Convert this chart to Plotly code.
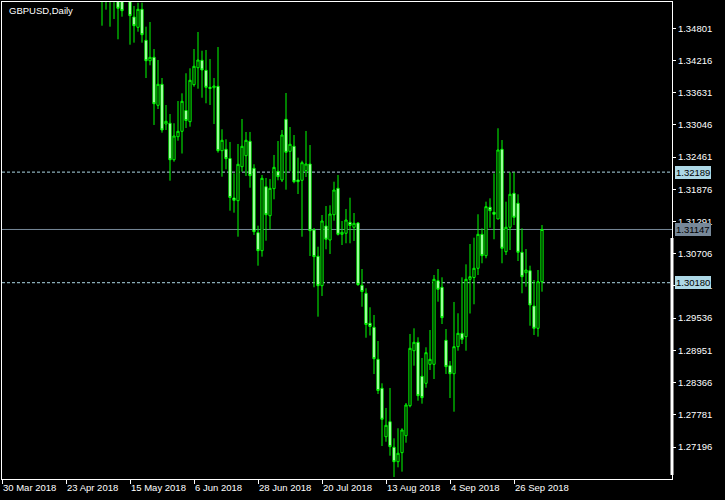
import pandas as pd
import plotly.graph_objects as go

# ---------------- data ----------------
trading_days = pd.bdate_range("2018-03-30", "2018-10-05")
first_bar = "2018-05-04"

opens = [1.35480, 1.35360, 1.35520, 1.35400, 1.35610, 1.35300, 1.35400, 1.35450, 1.35006, 1.34819,
         1.35146, 1.34583, 1.34212, 1.34274, 1.33402, 1.33784, 1.33063, 1.33076, 1.32414, 1.32832,
         1.32930, 1.33308, 1.33105, 1.33777, 1.34085, 1.34220, 1.34038, 1.33729, 1.33722, 1.33748,
         1.32578, 1.32603, 1.32436, 1.31719, 1.31670, 1.32287, 1.32487, 1.32749, 1.32258, 1.31089,
         1.30762, 1.31924, 1.31397, 1.31888, 1.32204, 1.32046, 1.33148, 1.32567, 1.32658, 1.32046,
         1.32040, 1.32215, 1.32336, 1.31138, 1.30660, 1.30126, 1.31210, 1.30956, 1.31415, 1.31895,
         1.31059, 1.31078, 1.31277, 1.31187, 1.31265, 1.30133, 1.29988, 1.29443, 1.29370, 1.28789,
         1.28262, 1.27383, 1.27656, 1.27191, 1.26929, 1.27093, 1.27401, 1.27946, 1.28945, 1.29098,
         1.28480, 1.28353, 1.28698, 1.28698, 1.30217, 1.30097, 1.29134, 1.28673, 1.28527, 1.29018,
         1.29261, 1.29200, 1.30242, 1.30275, 1.30442, 1.31059, 1.30671, 1.31550, 1.31459, 1.31337,
         1.32603, 1.30743, 1.31187, 1.31804, 1.31623, 1.30732, 1.30362, 1.30398, 1.29757, 1.29352,
         1.30198]
highs = [1.35620, 1.35660, 1.35750, 1.35730, 1.35770, 1.35450, 1.35720, 1.35600, 1.35206, 1.35266,
         1.35266, 1.34830, 1.34915, 1.34425, 1.34225, 1.33898, 1.33408, 1.33244, 1.33076, 1.33480,
         1.33620, 1.33984, 1.34075, 1.34425, 1.34734, 1.34394, 1.34407, 1.34243, 1.33898, 1.34461,
         1.32967, 1.32785, 1.32736, 1.32167, 1.32700, 1.33154, 1.32918, 1.32918, 1.32331, 1.31216,
         1.32137, 1.32082, 1.32064, 1.32500, 1.32754, 1.32954, 1.33626, 1.33008, 1.32863, 1.32451,
         1.32396, 1.32936, 1.32681, 1.31174, 1.30834, 1.31410, 1.31573, 1.31586, 1.32015, 1.32137,
         1.31301, 1.31519, 1.31724, 1.31446, 1.31283, 1.30429, 1.30079, 1.29734, 1.29594, 1.29121,
         1.28353, 1.27905, 1.28268, 1.27354, 1.27536, 1.27536, 1.27995, 1.29249, 1.29352, 1.29189,
         1.28813, 1.29007, 1.29321, 1.30320, 1.30429, 1.30278, 1.29339, 1.28758, 1.29830, 1.29625,
         1.30278, 1.30514, 1.30883, 1.30998, 1.31423, 1.31168, 1.31652, 1.31713, 1.32167, 1.32985,
         1.32772, 1.31652, 1.32186, 1.32186, 1.31786, 1.31168, 1.30792, 1.30489, 1.30229, 1.30411,
         1.31228]
lows = [1.34848, 1.35139, 1.34830, 1.34970, 1.34601, 1.35012, 1.35300, 1.34503, 1.34540, 1.34739,
        1.34540, 1.33898, 1.34129, 1.33045, 1.33335, 1.32905, 1.32954, 1.32033, 1.32378, 1.32759,
        1.32527, 1.32990, 1.33014, 1.33740, 1.33704, 1.33540, 1.33439, 1.33408, 1.33063, 1.32542,
        1.32106, 1.32240, 1.31488, 1.31452, 1.31016, 1.32196, 1.32118, 1.31906, 1.31047, 1.30489,
        1.30653, 1.30943, 1.31150, 1.31695, 1.32040, 1.32009, 1.31870, 1.32204, 1.31986, 1.31791,
        1.31016, 1.32100, 1.30665, 1.30097, 1.29563, 1.29939, 1.30787, 1.30702, 1.31306, 1.31038,
        1.30865, 1.30896, 1.30896, 1.30938, 1.30126, 1.29744, 1.29181, 1.29221, 1.28522, 1.28159,
        1.27214, 1.27292, 1.27038, 1.26651, 1.26827, 1.26748, 1.27274, 1.27917, 1.28673, 1.28037,
        1.27983, 1.28273, 1.28595, 1.28431, 1.29835, 1.29430, 1.28522, 1.28086, 1.27837, 1.28945,
        1.29067, 1.28945, 1.29621, 1.29788, 1.30320, 1.30533, 1.30624, 1.31179, 1.30969, 1.31337,
        1.30533, 1.30683, 1.30774, 1.31228, 1.30574, 1.29988, 1.30108, 1.29399, 1.29230, 1.29200,
        1.30017]
closes = [1.35360, 1.35520, 1.35400, 1.35610, 1.35164, 1.35121, 1.35600, 1.35030, 1.34848, 1.35146,
          1.34685, 1.34212, 1.34274, 1.33431, 1.33784, 1.32954, 1.33112, 1.32414, 1.32845, 1.32930,
          1.33475, 1.33126, 1.33857, 1.34111, 1.34225, 1.34044, 1.33729, 1.33708, 1.33753, 1.32578,
          1.32767, 1.32433, 1.31728, 1.31677, 1.32331, 1.32658, 1.32767, 1.32124, 1.31107, 1.30762,
          1.32077, 1.31415, 1.31895, 1.32276, 1.32106, 1.32863, 1.32549, 1.32694, 1.32015, 1.32015,
          1.32360, 1.32336, 1.31125, 1.30653, 1.30126, 1.31301, 1.30969, 1.31428, 1.31864, 1.31059,
          1.31096, 1.31319, 1.31219, 1.31259, 1.30144, 1.30020, 1.29421, 1.29385, 1.28800, 1.28222,
          1.27699, 1.27590, 1.27202, 1.26929, 1.27082, 1.27505, 1.27959, 1.28989, 1.29098, 1.28128,
          1.28092, 1.28909, 1.28789, 1.30242, 1.30060, 1.29545, 1.28655, 1.28527, 1.29018, 1.29261,
          1.29152, 1.30242, 1.30289, 1.30442, 1.31059, 1.30671, 1.31561, 1.31488, 1.31423, 1.32591,
          1.30805, 1.31187, 1.31786, 1.31368, 1.30732, 1.30289, 1.30411, 1.29775, 1.29352, 1.30198,
          1.31147]

tick_dates = ["2018-03-30", "2018-04-23", "2018-05-15", "2018-06-06", "2018-06-28",
              "2018-07-20", "2018-08-13", "2018-09-04", "2018-09-26"]
price_ticks = [1.34801, 1.34216, 1.33631, 1.33046, 1.32461, 1.31876, 1.31291,
               1.30706, 1.30121, 1.29536, 1.28951, 1.28366, 1.27781, 1.27196]
upper_level = 1.32189
current_price = 1.31147
lower_level = 1.30180
price_range = [1.266148, 1.352787]
symbol_title = "GBPUSD,Daily"

# ---------------- figure ----------------
start = trading_days.get_loc(pd.Timestamp(first_bar))
x = list(range(start, start + len(opens)))
tick_pos = [trading_days.get_loc(pd.Timestamp(d)) for d in tick_dates]
tick_txt = [f"{pd.Timestamp(d).day} {pd.Timestamp(d).strftime('%b %Y')}" for d in tick_dates]

GREEN = "#00FF00"
LBLUE = "#ADD8E6"
SLATE = "#778899"
FONT = "Liberation Sans"

fig = go.Figure(go.Candlestick(
    x=x, open=opens, high=highs, low=lows, close=closes,
    increasing=dict(line=dict(color=GREEN, width=1), fillcolor="black"),
    decreasing=dict(line=dict(color=GREEN, width=1), fillcolor="white"),
    whiskerwidth=0, hoverinfo="skip", showlegend=False,
))

for lvl, col, dash in [(upper_level, LBLUE, "3px,2px"), (current_price, SLATE, "solid"),
                       (lower_level, LBLUE, "3px,2px")]:
    fig.add_shape(type="line", xref="paper", x0=0, x1=1, yref="y", y0=lvl, y1=lvl,
                  line=dict(color=col, width=1, dash=dash), layer="below")

# white marker bar at right edge
fig.add_shape(type="line", xref="paper", x0=1, x1=1, yref="paper",
              y0=4 / 477, y1=241 / 477, line=dict(color="white", width=3), layer="above")

for lvl, bg in [(upper_level, LBLUE), (lower_level, LBLUE), (current_price, SLATE)]:
    fig.add_annotation(xref="paper", x=1, xanchor="left", xshift=3, yref="y", y=lvl,
                       yanchor="middle", text=f"{lvl:.5f}", showarrow=False,
                       bgcolor=bg, borderpad=0, borderwidth=1, bordercolor=bg,
                       font=dict(family=FONT, size=9.5, color="black"))

fig.add_annotation(xref="paper", x=0, xanchor="left", xshift=5, yref="paper", y=1,
                   yanchor="middle", yshift=-8, text=symbol_title, showarrow=False,
                   font=dict(family=FONT, size=9.5, color="white"))

fig.update_layout(
    width=725, height=500,
    margin=dict(l=2, r=53, t=2, b=21),
    paper_bgcolor="black", plot_bgcolor="black",
    showlegend=False, boxgap=0.45, boxgroupgap=0,
    font=dict(family=FONT, size=9.5, color="white"),
    xaxis=dict(range=[0, 167.5], tickvals=tick_pos, ticktext=tick_txt,
               ticks="outside", ticklen=4, tickcolor="white", tickwidth=1,
               ticklabelposition="outside right",
               showgrid=False, zeroline=False, showline=True, linecolor="white",
               linewidth=1, mirror=True, rangeslider=dict(visible=False), fixedrange=True),
    yaxis=dict(side="right", range=price_range, tickvals=price_ticks,
               ticktext=[f"{v:.5f}" for v in price_ticks],
               ticks="outside", ticklen=3, tickcolor="white", tickwidth=1,
               showgrid=False, zeroline=False, showline=True, linecolor="white",
               linewidth=1, mirror=True, fixedrange=True),
)

fig.write_html("out.html", config={"displayModeBar": False},
               post_script="document.body.style.margin='0';document.body.style.background='black';")
